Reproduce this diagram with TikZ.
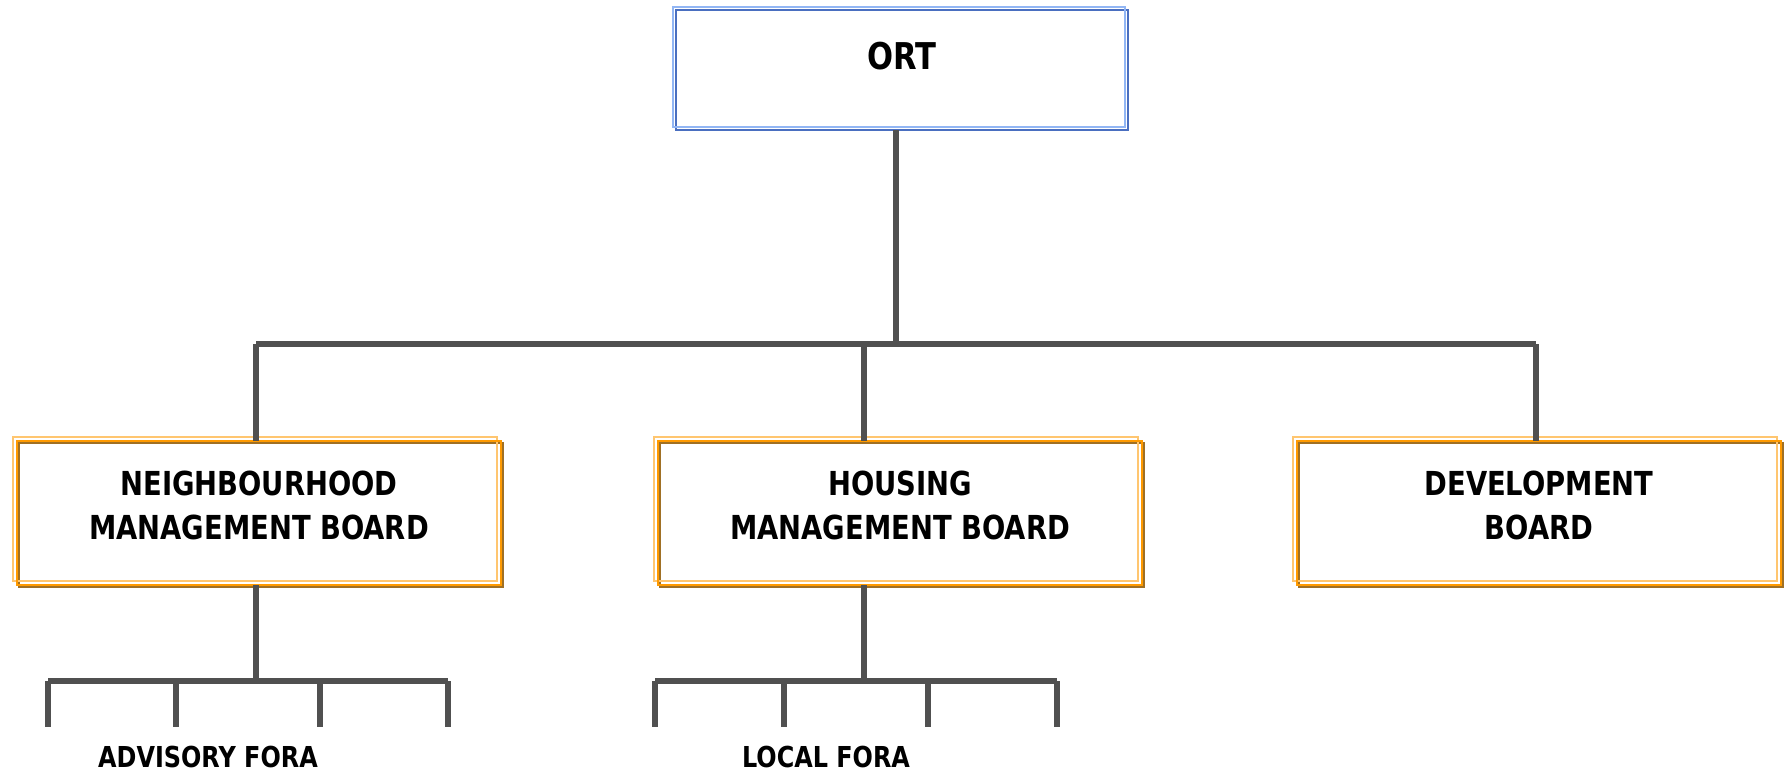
\documentclass[tikz,border=0pt]{standalone}
\usepackage{fontspec}
\setmainfont{DejaVu Sans}[FakeStretch=0.83]
\usepackage{xcolor}
\usepackage{tikz}
\definecolor{ortblue}{HTML}{4A6FC0}
\definecolor{ortlight}{HTML}{92B6F4}
\definecolor{boardorange}{HTML}{FF9A00}
\definecolor{boardlight}{HTML}{FFC670}
\definecolor{boardshade}{HTML}{A07024}
\definecolor{linkgrey}{HTML}{505050}
\tikzset{
    topbox/.style={draw=ortblue, line width=0.6pt, minimum width=4.52cm, minimum height=1.20cm, inner sep=0pt, outer sep=0pt, font=\fontsize{10.5}{13}\selectfont\bfseries, text height=0.27cm, text depth=0.29cm},
    board/.style={draw=boardorange, line width=0.6pt, minimum width=4.84cm, minimum height=1.44cm, inner sep=0pt, outer sep=0pt, align=center, font=\fontsize{9.4}{12.5}\selectfont\bfseries, text depth=0.15cm},
    boxlight/.style={draw=#1, line width=0.6pt},
    boxshade/.style={draw=boardshade, line width=0.6pt},
    link/.style={draw=linkgrey, line width=1.7pt},
    fora/.style={anchor=base, font=\fontsize{8.2}{10}\selectfont\bfseries}
}

\begin{document}
\begin{tikzpicture}
    \useasboundingbox (0,0) rectangle (17.85,-7.73);
    \node[topbox] (ort) at (9.02,-0.70) {ORT};
    \node[board] (nmb) at (2.59,-5.13) {NEIGHBOURHOOD\\MANAGEMENT BOARD};
    \node[board] (hmb) at (9.00,-5.13) {HOUSING\\MANAGEMENT BOARD};
    \node[board] (db) at (15.39,-5.13) {DEVELOPMENT\\BOARD};
    \draw[boxlight=ortlight] ([shift={(-0.03,0.03)}]ort.north west) rectangle ([shift={(-0.03,0.03)}]ort.south east);
    \foreach \n in {nmb,hmb,db} {
        \draw[boxshade] ([shift={(0.02,-0.02)}]\n.north west) rectangle ([shift={(0.02,-0.02)}]\n.south east);
        \draw[boxlight=boardlight] ([shift={(-0.04,0.04)}]\n.north west) rectangle ([shift={(-0.04,0.04)}]\n.south east);
        \draw[boxlight=boardorange] (\n.north west) rectangle (\n.south east);
    }
    % top level connectors
    \coordinate (hub) at (8.96,-3.44);
    \coordinate (jl) at (2.56,-3.44);
    \coordinate (jm) at (8.64,-3.44);
    \coordinate (jr) at (15.36,-3.44);
    \draw[link] (ort.south -| hub) -- (hub);
    \draw[link] (jl) -- (jr);
    \draw[link] (jl) -- (jl |- nmb.north);
    \draw[link] (jm) -- (jm |- hmb.north);
    \draw[link] (jr) -- (jr |- db.north);
    % fora under the boards
    \coordinate (nfork) at (2.56,-6.81);
    \coordinate (hfork) at (8.64,-6.81);
    \draw[link] (nmb.south -| nfork) -- (nfork);
    \draw[link] (hmb.south -| hfork) -- (hfork);
    \foreach \x [count=\i] in {0.48,1.76,3.20,4.48} {
        \coordinate (nt\i) at (\x,-6.81);
        \draw[link] (nt\i) -- ++(0,-0.46);
    }
    \foreach \x [count=\i] in {6.55,7.84,9.28,10.57} {
        \coordinate (ht\i) at (\x,-6.81);
        \draw[link] (ht\i) -- ++(0,-0.46);
    }
    \draw[link] (nt1) -- (nt4);
    \draw[link] (ht1) -- (ht4);
    \node[fora] (advisory) at (2.08,-7.67) {ADVISORY FORA};
    \node[fora] (local) at (8.26,-7.67) {LOCAL FORA};
\end{tikzpicture}
\end{document}
